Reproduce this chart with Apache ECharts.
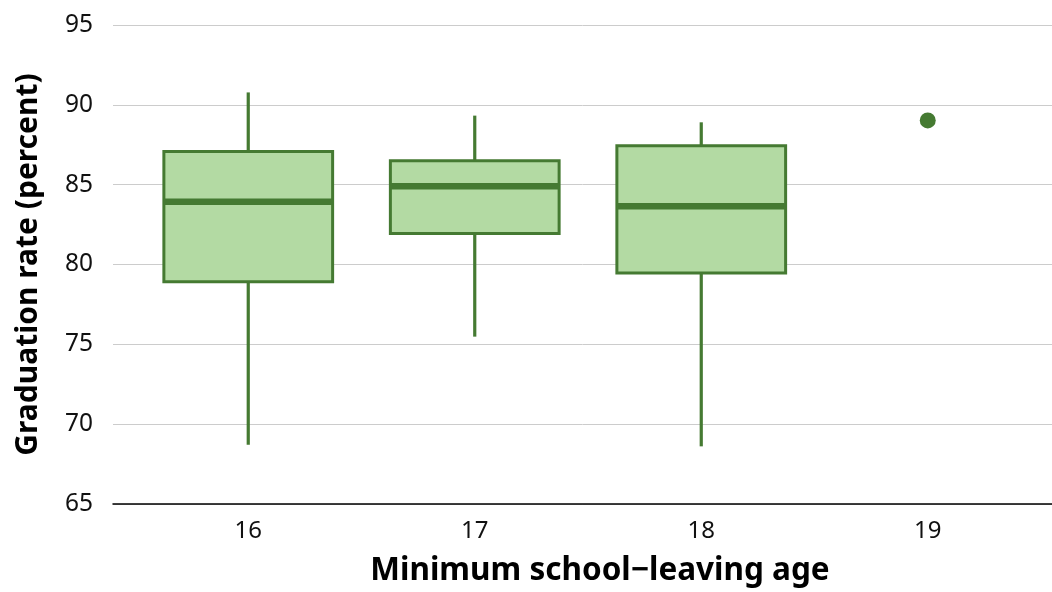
<!DOCTYPE html>
<html>
<head>
<meta charset="utf-8">
<script src="https://cdn.jsdelivr.net/npm/echarts@6/dist/echarts.min.js"></script>
<style>
html,body{margin:0;padding:0;background:#fff;}
#chart{width:1052px;height:592px;}
</style>
</head>
<body>
<div id="chart"></div>
<script>
// Data
const categories = ['16', '17', '18', '19'];
// [low whisker, Q1, median, Q3, high whisker]
const boxLow    = [68.6, 75.4, 68.5];
const boxQ1     = [78.86, 81.89, 79.4];
const boxMedian = [83.88, 84.86, 83.6];
const boxQ3     = [87.04, 86.46, 87.4];
const boxHigh   = [90.76, 89.3, 88.88];
const boxCats   = ['16', '17', '18'];
const outlierCats = ['19'];
const outlierValues = [89.0];
const yTicks = [65, 70, 75, 80, 85, 90, 95];

const FILL = '#b3daa3';
const STROKE = '#457a32';
const FONT = 'Noto Sans';

const boxData = boxCats.map((c, i) => [categories.indexOf(c), boxLow[i], boxQ1[i], boxMedian[i], boxQ3[i], boxHigh[i]]);
const outlierData = outlierCats.map((c, i) => [categories.indexOf(c), outlierValues[i]]);

const chart = echarts.init(document.getElementById('chart'), null, {renderer: 'canvas'});

const option = {
  animation: false,
  backgroundColor: '#fff',
  grid: [
    {left: 113, right: 0, top: 25, bottom: 88, containLabel: false},
    {left: 135, right: 11, top: 25, bottom: 88, containLabel: false}
  ],
  xAxis: [
    {
      gridIndex: 0, type: 'value', min: 0, max: 1,
      axisLine: {show: true, lineStyle: {color: '#000', width: 1.5}},
      axisTick: {show: false}, axisLabel: {show: false}, splitLine: {show: false}
    },
    {
      gridIndex: 1, type: 'category', data: categories, boundaryGap: true,
      axisLine: {show: false}, axisTick: {show: false}, splitLine: {show: false},
      axisLabel: {fontFamily: FONT, fontSize: 24, color: '#111', margin: 17},
      name: 'Minimum school\u2212leaving age', nameLocation: 'middle', nameGap: 53,
      nameTextStyle: {fontFamily: FONT, fontSize: 31.5, fontWeight: 'bold', color: '#000', padding: [0, 0, 0, 24]}
    }
  ],
  yAxis: [
    {
      gridIndex: 0, type: 'value', min: yTicks[0], max: yTicks[yTicks.length - 1], interval: 5,
      axisLine: {show: false}, axisTick: {show: false},
      axisLabel: {fontFamily: FONT, fontSize: 24.5, color: '#111', margin: 20, padding: [4, 0, 0, 0]},
      splitLine: {show: true, lineStyle: {color: '#cccccc', width: 1}},
      name: 'Graduation rate (percent)', nameLocation: 'middle', nameGap: 70,
      nameTextStyle: {fontFamily: FONT, fontSize: 30, fontWeight: 'bold', color: '#000'}
    },
    {
      gridIndex: 1, type: 'value', min: yTicks[0], max: yTicks[yTicks.length - 1], interval: 5,
      show: false
    }
  ],
  series: [
    {
      type: 'custom',
      xAxisIndex: 1, yAxisIndex: 1,
      data: boxData,
      encode: {x: 0, y: [1, 2, 3, 4, 5]},
      renderItem: function (params, api) {
        const xi = api.value(0);
        const low = api.coord([xi, api.value(1)]);
        const q1 = api.coord([xi, api.value(2)]);
        const med = api.coord([xi, api.value(3)]);
        const q3 = api.coord([xi, api.value(4)]);
        const high = api.coord([xi, api.value(5)]);
        const bw = api.size([1, 0])[0] * 0.745;
        const cx = med[0];
        return {
          type: 'group',
          children: [
            {type: 'line', shape: {x1: cx, y1: high[1], x2: cx, y2: q3[1]}, style: {stroke: STROKE, lineWidth: 3.2}},
            {type: 'line', shape: {x1: cx, y1: q1[1], x2: cx, y2: low[1]}, style: {stroke: STROKE, lineWidth: 3.2}},
            {type: 'rect', shape: {x: cx - bw / 2, y: q3[1], width: bw, height: q1[1] - q3[1]},
             style: {fill: FILL, stroke: STROKE, lineWidth: 3}},
            {type: 'line', shape: {x1: cx - bw / 2, y1: med[1], x2: cx + bw / 2, y2: med[1]},
             style: {stroke: STROKE, lineWidth: 6.5}}
          ]
        };
      }
    },
    {
      type: 'scatter',
      xAxisIndex: 1, yAxisIndex: 1,
      data: outlierData,
      symbol: 'circle', symbolSize: 16,
      itemStyle: {color: STROKE, opacity: 1}
    }
  ]
};
chart.setOption(option);
</script>
</body>
</html>
